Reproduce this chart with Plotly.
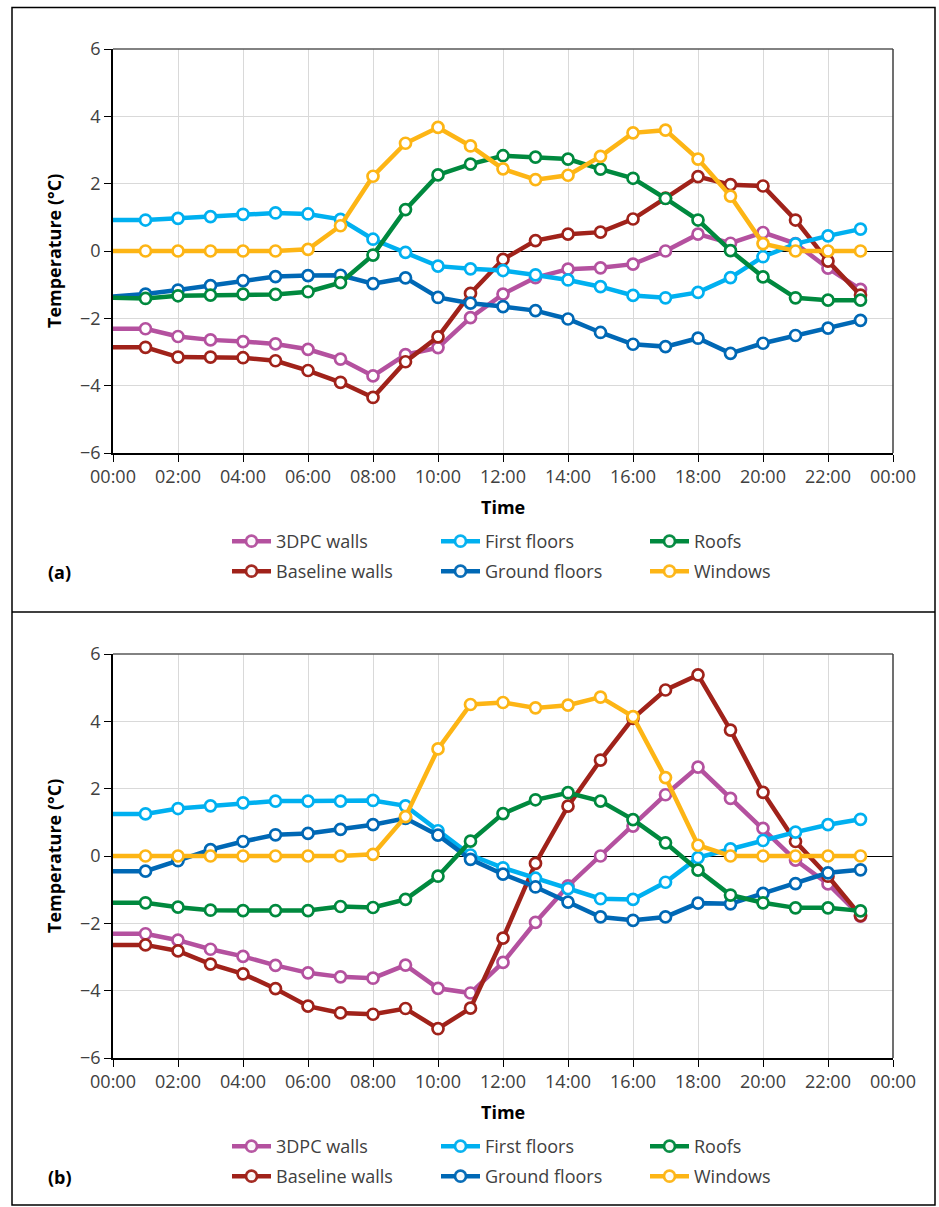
import plotly.graph_objects as go

W, H = 939, 1207

hours = list(range(24))
tick_hours = list(range(0, 25, 2))
tick_text = ["00:00", "02:00", "04:00", "06:00", "08:00", "10:00", "12:00",
             "14:00", "16:00", "18:00", "20:00", "22:00", "00:00"]
y_ticks = [-6, -4, -2, 0, 2, 4, 6]

series_names = ["3DPC walls", "Baseline walls", "First floors",
                "Ground floors", "Roofs", "Windows"]
series_colors = ["#B4519F", "#A0221A", "#00B0F0", "#0068B5", "#00893E", "#FDB515"]
# legend row (0 = upper, 1 = lower) and position within the row
legend_row = [0, 1, 0, 1, 0, 1]
legend_rank = [1, 1, 2, 2, 3, 3]

# Panel (a)
walls_3dpc_a = [-2.31, -2.31, -2.54, -2.64, -2.69, -2.76, -2.92, -3.21, -3.71, -3.08, -2.87, -1.98,
                -1.28, -0.79, -0.54, -0.50, -0.39, 0.00, 0.50, 0.23, 0.55, 0.22, -0.51, -1.14]
walls_base_a = [-2.86, -2.86, -3.15, -3.15, -3.17, -3.26, -3.55, -3.90, -4.35, -3.29, -2.55, -1.26,
                -0.25, 0.31, 0.50, 0.56, 0.95, 1.57, 2.21, 1.97, 1.93, 0.92, -0.30, -1.31]
first_fl_a = [0.92, 0.92, 0.97, 1.02, 1.09, 1.13, 1.10, 0.94, 0.35, -0.04, -0.45, -0.53,
              -0.58, -0.71, -0.86, -1.06, -1.32, -1.39, -1.23, -0.79, -0.17, 0.21, 0.45, 0.65]
ground_fl_a = [-1.35, -1.28, -1.16, -1.03, -0.88, -0.76, -0.73, -0.72, -0.97, -0.80, -1.38, -1.55,
               -1.65, -1.77, -2.02, -2.42, -2.77, -2.84, -2.59, -3.04, -2.74, -2.51, -2.29, -2.06]
roofs_a = [-1.39, -1.41, -1.33, -1.31, -1.28, -1.29, -1.21, -0.94, -0.12, 1.23, 2.26, 2.58,
           2.83, 2.79, 2.73, 2.43, 2.16, 1.56, 0.92, 0.01, -0.77, -1.39, -1.46, -1.46]
windows_a = [0.0, 0.0, 0.0, 0.0, 0.0, 0.0, 0.05, 0.75, 2.22, 3.20, 3.67, 3.12,
             2.44, 2.12, 2.25, 2.81, 3.51, 3.59, 2.73, 1.63, 0.22, 0.0, 0.0, 0.0]

# Panel (b)
walls_3dpc_b = [-2.31, -2.31, -2.50, -2.77, -2.98, -3.25, -3.47, -3.59, -3.63, -3.24, -3.93, -4.07,
                -3.16, -1.97, -0.89, 0.00, 0.89, 1.82, 2.64, 1.71, 0.82, -0.12, -0.83, -1.79]
walls_base_b = [-2.64, -2.64, -2.82, -3.21, -3.50, -3.94, -4.46, -4.66, -4.70, -4.53, -5.13, -4.52,
                -2.44, -0.22, 1.48, 2.85, 4.09, 4.93, 5.38, 3.74, 1.89, 0.43, -0.60, -1.77]
first_fl_b = [1.25, 1.25, 1.41, 1.49, 1.58, 1.63, 1.63, 1.63, 1.65, 1.49, 0.75, 0.03,
              -0.35, -0.66, -0.97, -1.27, -1.29, -0.78, -0.05, 0.21, 0.46, 0.71, 0.93, 1.09]
ground_fl_b = [-0.45, -0.45, -0.14, 0.19, 0.43, 0.63, 0.67, 0.79, 0.93, 1.12, 0.62, -0.10,
               -0.54, -0.92, -1.37, -1.81, -1.91, -1.81, -1.40, -1.42, -1.11, -0.82, -0.50, -0.41]
roofs_b = [-1.39, -1.39, -1.52, -1.61, -1.62, -1.62, -1.62, -1.50, -1.53, -1.29, -0.60, 0.44,
           1.26, 1.67, 1.88, 1.63, 1.08, 0.39, -0.42, -1.16, -1.39, -1.54, -1.54, -1.63]
windows_b = [0.0, 0.0, 0.0, 0.0, 0.0, 0.0, 0.0, 0.0, 0.05, 1.17, 3.18, 4.50,
             4.56, 4.40, 4.48, 4.72, 4.14, 2.33, 0.32, 0.0, 0.0, 0.0, 0.0, 0.0]

panel_a = [walls_3dpc_a, walls_base_a, first_fl_a, ground_fl_a, roofs_a, windows_a]
panel_b = [walls_3dpc_b, walls_base_b, first_fl_b, ground_fl_b, roofs_b, windows_b]

FONT = "Open Sans"
TXT = "#404040"

# horizontal extent of the plot areas (pixels)
X0, X1 = 113, 893
ML, MR = X0, W - X1


def px_x(p):
    return (p - ML) / (X1 - X0)


def px_y(p):
    return 1 - p / H


PANELS = [
    dict(top=49, bottom=453, label="(a)", label_y=572, time_y=507, legend_tops=[523, 553]),
    dict(top=654, bottom=1058, label="(b)", label_y=1177, time_y=1112, legend_tops=[1128, 1158]),
]

fig = go.Figure()

# no marker on the midnight point at the left edge
marker_opacity = [0] + [1] * 23

for pi, data in enumerate([panel_a, panel_b]):
    xa = "x" if pi == 0 else "x2"
    ya = "y" if pi == 0 else "y2"
    for name, color, row, rank, vals in zip(series_names, series_colors, legend_row,
                                             legend_rank, data):
        idx = pi * 2 + row + 1
        lg = "legend" if idx == 1 else "legend%d" % idx
        fig.add_trace(go.Scatter(
            x=hours, y=vals, name=name, mode="lines+markers",
            xaxis=xa, yaxis=ya, legend=lg, legendrank=rank,
            line=dict(color=color, width=4.5),
            marker=dict(symbol="circle", size=11, color="#FFFFFF",
                        opacity=marker_opacity,
                        line=dict(color=color, width=2.7)),
            cliponaxis=False,
        ))

axis_common = dict(
    showline=True, linecolor="black", linewidth=1.5,
    ticks="outside", ticklen=7, tickwidth=1.2, tickcolor="black",
    showgrid=True, gridcolor="#D9D9D9", gridwidth=1.3,
    tickfont=dict(family=FONT, size=18, color=TXT),
    automargin=False,
)

layout = dict(
    width=W, height=H,
    margin=dict(l=ML, r=MR, t=0, b=0, autoexpand=False),
    paper_bgcolor="white", plot_bgcolor="white",
    font=dict(family=FONT, color=TXT),
)

shapes = []
annotations = []

for pi, p in enumerate(PANELS):
    suf = "" if pi == 0 else "2"
    layout["xaxis" + suf] = dict(
        axis_common, domain=[0, 1], range=[0, 24],
        tickvals=tick_hours, ticktext=tick_text, zeroline=False,
        anchor="y" + suf,
    )
    layout["yaxis" + suf] = dict(
        axis_common, domain=[px_y(p["bottom"]), px_y(p["top"])], range=[-6, 6],
        tickvals=y_ticks, zeroline=True, zerolinecolor="black", zerolinewidth=1.3,
        anchor="x" + suf,
    )
    for row in range(2):
        idx = pi * 2 + row + 1
        leg_key = "legend" if idx == 1 else "legend%d" % idx
        layout[leg_key] = dict(
            orientation="h", x=px_x(227), xanchor="left",
            y=px_y(p["legend_tops"][row]), yanchor="top",
            entrywidth=155, itemwidth=39, traceorder="normal",
            font=dict(family=FONT, size=18, color=TXT),
            bgcolor="rgba(0,0,0,0)", itemclick=False,
        )
    # top and right frame of the plot area
    shapes.append(dict(type="line", xref="paper", yref="paper",
                       x0=0, x1=1, y0=px_y(p["top"]), y1=px_y(p["top"]),
                       line=dict(color="#595959", width=1.5), layer="above"))
    shapes.append(dict(type="line", xref="paper", yref="paper",
                       x0=1, x1=1, y0=px_y(p["top"]), y1=px_y(p["bottom"]),
                       line=dict(color="#404040", width=1.5), layer="above"))
    annotations.append(dict(
        text="<b>Temperature (°C)</b>", textangle=-90, xref="paper", yref="paper",
        x=px_x(54), y=px_y((p["top"] + p["bottom"]) / 2), showarrow=False,
        xanchor="center", yanchor="middle",
        font=dict(family=FONT, size=18, color="black"),
    ))
    annotations.append(dict(
        text="<b>Time</b>", xref="paper", yref="paper",
        x=0.5, y=px_y(p["time_y"]), showarrow=False,
        xanchor="center", yanchor="middle",
        font=dict(family=FONT, size=18, color="black"),
    ))
    annotations.append(dict(
        text="<b>" + p["label"] + "</b>", xref="paper", yref="paper",
        x=px_x(46), y=px_y(p["label_y"]), showarrow=False,
        xanchor="left", yanchor="middle",
        font=dict(family=FONT, size=18, color="black"),
    ))

# outer frame and the divider between the two panels
shapes.append(dict(type="rect", xref="paper", yref="paper",
                   x0=px_x(12), x1=px_x(935), y0=px_y(1205), y1=px_y(7.5),
                   line=dict(color="black", width=1.5)))
shapes.append(dict(type="line", xref="paper", yref="paper",
                   x0=px_x(12), x1=px_x(935), y0=px_y(612), y1=px_y(612),
                   line=dict(color="black", width=1.5)))

layout["shapes"] = shapes
layout["annotations"] = annotations
fig.update_layout(**layout)

fig.write_html("out.html")
